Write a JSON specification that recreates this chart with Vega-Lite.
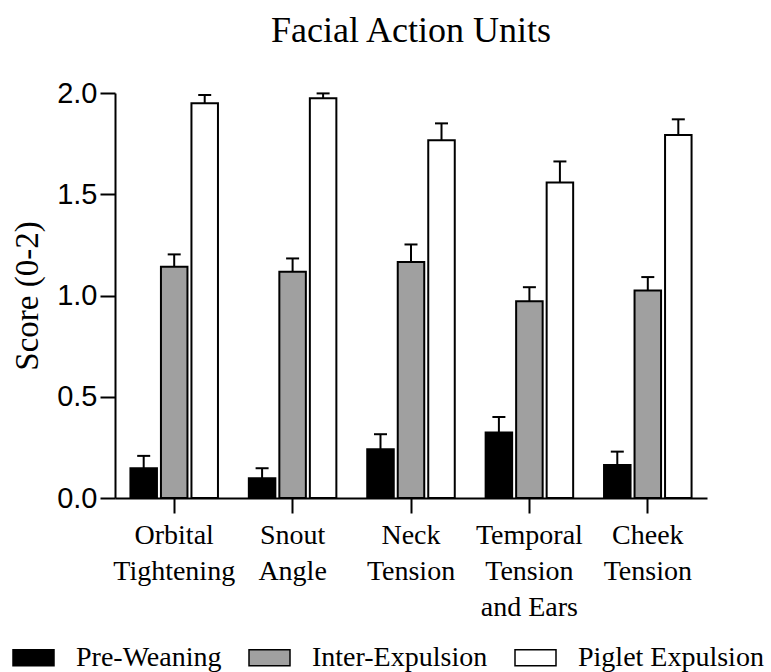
{
  "$schema": "https://vega.github.io/schema/vega-lite/v6.json",
  "width": 592,
  "height": 405,
  "autosize": {"type": "none"},
  "padding": {"left": 115, "top": 93, "right": 64, "bottom": 174},
  "background": "white",
  "title": {
    "text": "Facial Action Units",
    "font": "Liberation Serif",
    "fontSize": 36,
    "fontWeight": "normal",
    "color": "black",
    "anchor": "middle",
    "offset": 29
  },
  "config": {
    "font": "Liberation Serif",
    "view": {"stroke": null},
    "axis": {
      "grid": false,
      "domainColor": "black",
      "tickColor": "black",
      "labelColor": "black",
      "titleColor": "black"
    }
  },
  "data": {
    "values": [
      {"unit": "Orbital|Tightening", "group": "Pre-Weaning", "mean": 0.147, "upper": 0.208},
      {"unit": "Orbital|Tightening", "group": "Inter-Expulsion", "mean": 1.142, "upper": 1.203},
      {"unit": "Orbital|Tightening", "group": "Piglet Expulsion", "mean": 1.949, "upper": 1.99},
      {"unit": "Snout|Angle", "group": "Pre-Weaning", "mean": 0.097, "upper": 0.147},
      {"unit": "Snout|Angle", "group": "Inter-Expulsion", "mean": 1.117, "upper": 1.183},
      {"unit": "Snout|Angle", "group": "Piglet Expulsion", "mean": 1.974, "upper": 1.998},
      {"unit": "Neck|Tension", "group": "Pre-Weaning", "mean": 0.241, "upper": 0.315},
      {"unit": "Neck|Tension", "group": "Inter-Expulsion", "mean": 1.165, "upper": 1.252},
      {"unit": "Neck|Tension", "group": "Piglet Expulsion", "mean": 1.767, "upper": 1.85},
      {"unit": "Temporal|Tension|and Ears", "group": "Pre-Weaning", "mean": 0.323, "upper": 0.4},
      {"unit": "Temporal|Tension|and Ears", "group": "Inter-Expulsion", "mean": 0.972, "upper": 1.041},
      {"unit": "Temporal|Tension|and Ears", "group": "Piglet Expulsion", "mean": 1.558, "upper": 1.662},
      {"unit": "Cheek|Tension", "group": "Pre-Weaning", "mean": 0.163, "upper": 0.229},
      {"unit": "Cheek|Tension", "group": "Inter-Expulsion", "mean": 1.025, "upper": 1.091},
      {"unit": "Cheek|Tension", "group": "Piglet Expulsion", "mean": 1.792, "upper": 1.87}
    ]
  },
  "encoding": {
    "x": {
      "field": "unit",
      "type": "nominal",
      "sort": null,
      "scale": {"paddingInner": 0, "paddingOuter": 0},
      "axis": {
        "title": null,
        "labelAngle": 0,
        "labelExpr": "split(datum.value, '|')",
        "labelFont": "Liberation Serif",
        "labelFontSize": 28,
        "labelLineHeight": 36,
        "labelPadding": 8,
        "labelOverlap": false,
        "labelBound": false,
        "labelLimit": 0,
        "tickSize": 15,
        "tickWidth": 2,
        "domainWidth": 2
      }
    },
    "xOffset": {
      "field": "group",
      "type": "nominal",
      "sort": ["Pre-Weaning", "Inter-Expulsion", "Piglet Expulsion"],
      "scale": {"paddingInner": 0.131, "paddingOuter": 0.506}
    }
  },
  "layer": [
    {
      "mark": {"type": "bar", "stroke": "black", "strokeWidth": 2},
      "encoding": {
        "y": {
          "field": "mean",
          "type": "quantitative",
          "scale": {"domain": [0, 2], "nice": false, "zero": true},
          "axis": {
            "title": "Score (0-2)",
            "titleFont": "Liberation Serif",
            "titleFontSize": 33,
            "titleFontWeight": "normal",
            "titlePadding": 12,
            "values": [0, 0.5, 1, 1.5, 2],
            "format": ".1f",
            "labelFont": "Liberation Sans",
            "labelFontSize": 29,
            "labelPadding": 3,
            "tickSize": 15,
            "tickWidth": 2,
            "domainWidth": 2
          }
        },
        "fill": {
          "field": "group",
          "type": "nominal",
          "sort": ["Pre-Weaning", "Inter-Expulsion", "Piglet Expulsion"],
          "scale": {"domain": ["Pre-Weaning", "Inter-Expulsion", "Piglet Expulsion"], "range": ["#000000", "#a0a0a0", "#ffffff"]},
          "legend": {
            "title": null,
            "orient": "none",
            "direction": "horizontal",
            "legendX": -103,
            "legendY": 543,
            "symbolType": "M-1,-0.39H1V0.39H-1Z",
            "symbolSize": 1681,
            "symbolStrokeColor": "black",
            "symbolStrokeWidth": 1.5,
            "symbolOpacity": 1,
            "labelFont": "Liberation Serif",
            "labelFontSize": 28,
            "labelColor": "black",
            "labelOffset": 21,
            "labelLimit": 0,
            "columnPadding": 24
          }
        }
      }
    },
    {
      "mark": {"type": "rule", "color": "black", "strokeWidth": 2},
      "encoding": {
        "y": {"field": "mean", "type": "quantitative"},
        "y2": {"field": "upper"}
      }
    },
    {
      "mark": {"type": "tick", "color": "black", "thickness": 2, "size": 13, "opacity": 1},
      "encoding": {
        "y": {"field": "upper", "type": "quantitative"}
      }
    }
  ]
}
